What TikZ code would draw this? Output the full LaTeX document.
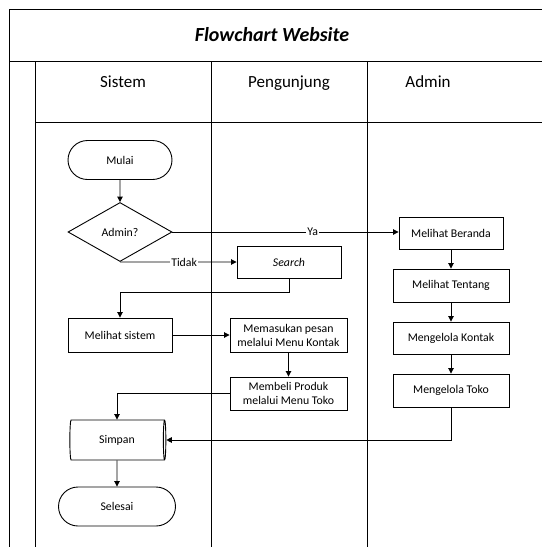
\documentclass[tikz,border=0pt]{standalone}
\usepackage{fontspec}
\setmainfont{Carlito}
\usetikzlibrary{shapes.geometric,shapes.misc,arrows.meta}
\begin{document}
\begin{tikzpicture}[x=1pt,y=-1pt,
  frame/.style={line width=1pt,black},
  body/.style={font=\fontsize{11.8}{14}\selectfont},
  box/.style={draw,line width=0.9pt,body,align=center,inner sep=0pt},
  term/.style={draw,line width=0.9pt,body,rounded rectangle,inner sep=0pt},
  flow/.style={line width=0.9pt,-{Triangle[length=5.5pt,width=5.5pt]}},
  lbl/.style={body,fill=white,inner sep=1pt}
]
\useasboundingbox (0,0) rectangle (542,547);
% table frame
\draw[frame] (9,547) -- (9,9) -- (542,9);
\draw[frame] (9,61) -- (542,61);
\draw[frame] (35,122) -- (542,122);
\draw[frame] (35,61) -- (35,547);
\draw[frame] (211,61) -- (211,547);
\draw[frame] (367,61) -- (367,547);
\node[anchor=base,font=\fontsize{20}{24}\selectfont\bfseries\itshape] (title) at (272,41) {Flowchart Website};
\node[anchor=base,font=\fontsize{17}{20}\selectfont] (hs) at (123,87.5) {Sistem};
\node[anchor=base,font=\fontsize{17}{20}\selectfont] (hp) at (289,87.5) {Pengunjung};
\node[anchor=base,font=\fontsize{17}{20}\selectfont] (ha) at (428,87.5) {Admin};
% flowchart nodes
\node[term,minimum width=104pt,minimum height=39pt] (mulai) at (120,160) {Mulai};
\node[draw,line width=0.9pt,diamond,body,inner sep=0pt,minimum width=104pt,minimum height=59pt] (admin) at (120,232) {Admin?};
\node[box,minimum width=104pt,minimum height=32pt] (beranda) at (451,233) {Melihat Beranda};
\node[box,minimum width=104pt,minimum height=32pt] (search) at (289,262) {\itshape Search};
\node[box,minimum width=116pt,minimum height=33pt] (tentang) at (451,285.5) {Melihat Tentang};
\node[box,minimum width=104pt,minimum height=34pt] (sistem) at (120,335) {Melihat sistem};
\node[box,minimum width=117pt,minimum height=34pt] (pesan) at (288.5,335) {Memasukan pesan\\melalui Menu Kontak};
\node[box,minimum width=116pt,minimum height=32pt] (kontak) at (451,338) {Mengelola Kontak};
\node[box,minimum width=117pt,minimum height=33pt] (produk) at (288.5,393.5) {Membeli Produk\\melalui Menu Toko};
\node[box,minimum width=116pt,minimum height=33pt] (toko) at (451,390.5) {Mengelola Toko};
\node[draw,line width=0.9pt,cylinder,body,shape aspect=0.25,minimum width=40pt,minimum height=96pt,inner sep=0pt] (simpan) at (117,440) {Simpan};
\node[term,minimum width=117pt,minimum height=39pt] (selesai) at (117,506.5) {Selesai};
% connectors
\draw[flow] (mulai) -- (admin);
\draw[flow] (admin.east) -- node[lbl,pos=0.62] {Ya} (admin.east -| beranda.west);
\draw[flow] (admin.south) -- node[lbl,pos=0.55] {Tidak} (search.west);
\draw[flow] (search.south) -- ++(0,14) -| (sistem.north);
\draw[flow] (sistem) -- (pesan);
\draw[flow] (pesan) -- (produk);
\draw[flow] (produk.west) -| (simpan.north);
\draw[flow] (beranda) -- (tentang);
\draw[flow] (tentang) -- (kontak);
\draw[flow] (kontak) -- (toko);
\draw[flow] (toko.south) |- (simpan.east);
\draw[flow] (simpan.south) -- (selesai.north);
\end{tikzpicture}
\end{document}
